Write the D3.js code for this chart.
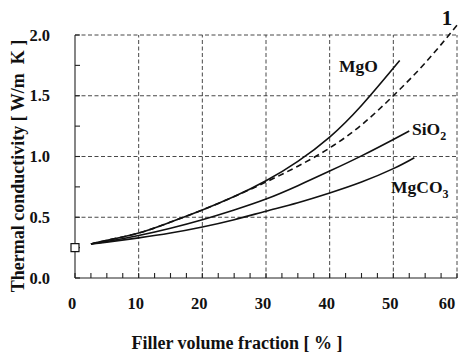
<!DOCTYPE html>
<html>
<head>
<meta charset="utf-8">
<script src="https://cdn.jsdelivr.net/npm/d3@7"></script>
<style>
  body { margin: 0; background: #fff; }
  svg text { font-family: "Liberation Serif", "DejaVu Serif", serif; font-weight: bold; fill: #111; }
</style>
</head>
<body>
<div id="chart"></div>
<script>
// filler volume fraction [%] and thermal conductivity [W/m K]
const mgoX = [2.5, 5, 10, 15, 20, 25, 30, 35, 40, 45, 51];
const mgoY = [0.28, 0.31, 0.37, 0.46, 0.56, 0.67, 0.80, 0.96, 1.16, 1.42, 1.79];

const curve1X = [2.5, 5, 10, 15, 20, 25, 30, 35, 40, 45, 50, 55, 60];
const curve1Y = [0.28, 0.31, 0.37, 0.46, 0.56, 0.67, 0.79, 0.92, 1.07, 1.26, 1.50, 1.77, 2.08];

const sio2X = [2.5, 5, 10, 15, 20, 25, 30, 35, 40, 45, 50, 52.5];
const sio2Y = [0.28, 0.30, 0.35, 0.41, 0.48, 0.56, 0.65, 0.76, 0.88, 1.005, 1.14, 1.21];

const mgco3X = [2.5, 5, 10, 15, 20, 25, 30, 35, 40, 45, 50, 53.3];
const mgco3Y = [0.28, 0.295, 0.33, 0.37, 0.42, 0.48, 0.55, 0.62, 0.70, 0.79, 0.90, 0.99];

// unfilled matrix
const matrixX = [0];
const matrixY = [0.25];

const xTicks = [0, 10, 20, 30, 40, 50, 60];
const yTicks = [0.0, 0.5, 1.0, 1.5, 2.0];

const width = 459, height = 355;
const margin = { left: 75, right: 2, top: 35, bottom: 77 };

const svg = d3.select('#chart').append('svg')
  .attr('width', width)
  .attr('height', height);

const x = d3.scaleLinear().domain([0, 60]).range([margin.left, width - margin.right]);
const y = d3.scaleLinear().domain([0, 2]).range([height - margin.bottom, margin.top]);

const x0 = x(0), x1 = x(60), y0 = y(0), y1 = y(2);

// dashed grid (includes top and right borders)
const grid = svg.append('g')
  .attr('stroke', '#333')
  .attr('stroke-width', 0.9)
  .attr('stroke-dasharray', '4,2.5');
xTicks.filter(t => t > 0).forEach(t => {
  grid.append('line').attr('x1', x(t)).attr('x2', x(t)).attr('y1', y0).attr('y2', y1);
});
yTicks.filter(t => t > 0).forEach(t => {
  grid.append('line').attr('x1', x0).attr('x2', x1).attr('y1', y(t)).attr('y2', y(t));
});

// solid left and bottom axes with inward minor ticks
const axes = svg.append('g').attr('stroke', '#222').attr('stroke-width', 1.1);
axes.append('line').attr('x1', x0).attr('x2', x0).attr('y1', y0).attr('y2', y1);
axes.append('line').attr('x1', x0).attr('x2', x1).attr('y1', y0).attr('y2', y0);

d3.range(0, 60.01, 2.5).forEach(t => {
  axes.append('line').attr('x1', x(t)).attr('x2', x(t)).attr('y1', y0).attr('y2', y0 - 5);
});
d3.range(0, 2.01, 0.25).forEach(t => {
  axes.append('line').attr('x1', x0).attr('x2', x0 + 5).attr('y1', y(t)).attr('y2', y(t));
});

// tick labels
svg.append('g').selectAll('text')
  .data(xTicks)
  .join('text')
  .attr('x', d => Math.min(x(d) - 3, width - 12))
  .attr('y', y0 + 31)
  .attr('text-anchor', 'middle')
  .attr('font-size', 16.5)
  .text(d => d);

svg.append('g').selectAll('text')
  .data(yTicks)
  .join('text')
  .attr('x', 50)
  .attr('y', d => y(d) + 5.5)
  .attr('text-anchor', 'end')
  .attr('font-size', 16.5)
  .text(d => d.toFixed(1));

// axis titles
svg.append('text')
  .attr('x', 237)
  .attr('y', 349)
  .attr('text-anchor', 'middle')
  .attr('font-size', 18)
  .text('Filler volume fraction [ % ]');

svg.append('text')
  .attr('transform', `translate(24,${166}) rotate(-90)`)
  .attr('text-anchor', 'middle')
  .attr('font-size', 18)
  .text('Thermal conductivity [ W/m\u00a0\u00a0K ]');

// curves
const line = d3.line().x(d => x(d[0])).y(d => y(d[1])).curve(d3.curveNatural);
const series = [
  { xs: mgoX, ys: mgoY, dash: null },
  { xs: curve1X, ys: curve1Y, dash: '6,4' },
  { xs: sio2X, ys: sio2Y, dash: null },
  { xs: mgco3X, ys: mgco3Y, dash: null }
];
series.forEach(s => {
  svg.append('path')
    .datum(s.xs.map((v, i) => [v, s.ys[i]]))
    .attr('d', line)
    .attr('fill', 'none')
    .attr('stroke', '#111')
    .attr('stroke-width', 1.6)
    .attr('stroke-dasharray', s.dash);
});

// matrix point
svg.append('g').selectAll('rect')
  .data(matrixX.map((v, i) => [v, matrixY[i]]))
  .join('rect')
  .attr('x', d => x(d[0]) - 4)
  .attr('y', d => y(d[1]) - 4)
  .attr('width', 8)
  .attr('height', 8)
  .attr('fill', '#fff')
  .attr('stroke', '#111')
  .attr('stroke-width', 1.2);

// curve labels
svg.append('text').attr('x', 339).attr('y', 72).attr('font-size', 17.5).text('MgO');

const si = svg.append('text').attr('x', 412).attr('y', 135).attr('font-size', 17.5);
si.append('tspan').text('SiO');
si.append('tspan').attr('font-size', 12).attr('dy', 5).text('2');

const mc = svg.append('text').attr('x', 391).attr('y', 193).attr('font-size', 17.5);
mc.append('tspan').text('MgCO');
mc.append('tspan').attr('font-size', 12).attr('dy', 5).text('3');

svg.append('text').attr('x', 447).attr('y', 25).attr('text-anchor', 'middle').attr('font-size', 21).text('1');
</script>
</body>
</html>
